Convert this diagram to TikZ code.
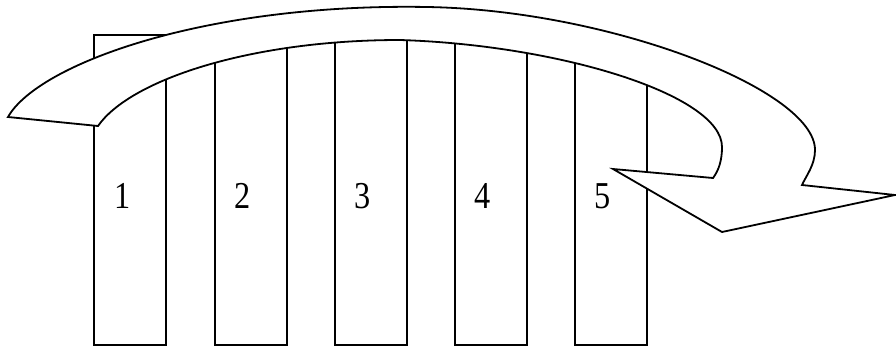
\documentclass[tikz,border=0pt]{standalone}
\usepackage{fontspec}
\setmainfont{Liberation Serif}
\begin{document}
\begin{tikzpicture}[x=1pt,y=-1pt,
  bar/.style={draw,line width=1.8pt,minimum width=72pt,inner sep=0pt,anchor=south west},
  lbl/.style={font=\fontsize{38}{42}\selectfont,inner sep=0pt},
  arrowshape/.style={draw,fill=white,line width=1.8pt,line join=miter}]
\useasboundingbox (0,0) rectangle (896,351);
% bars (bottom at y=346)
\node[bar,minimum height=310pt] (b1) at (93,346) {};
\node[bar,minimum height=300pt] (b2) at (214,346) {};
\node[bar,minimum height=310pt] (b3) at (334,346) {};
\node[bar,minimum height=310pt] (b4) at (454,346) {};
\node[bar,minimum height=295pt] (b5) at (574,346) {};
% curved arrow
\filldraw[arrowshape]
  (8,117) .. controls (38,64) and (205,3) .. (427,7)
  .. controls (610,10) and (815,90) .. (815,150)
  .. controls (815,165) and (806,176) .. (802,185)
  -- (895,195) -- (722,232) -- (613,169) -- (713,178)
  .. controls (719,170) and (722,160) .. (722,147)
  .. controls (722,95) and (560,45) .. (400,40)
  .. controls (250,40) and (130,80) .. (98,126)
  -- cycle;
% labels
\node[lbl] (l1) at (123,196) {\scalebox{0.85}[1]{1}};
\node[lbl] (l2) at (243,196) {\scalebox{0.85}[1]{2}};
\node[lbl] (l3) at (363,196) {\scalebox{0.85}[1]{3}};
\node[lbl] (l4) at (483,196) {\scalebox{0.85}[1]{4}};
\node[lbl] (l5) at (603,196) {\scalebox{0.85}[1]{5}};
\end{tikzpicture}
\end{document}
